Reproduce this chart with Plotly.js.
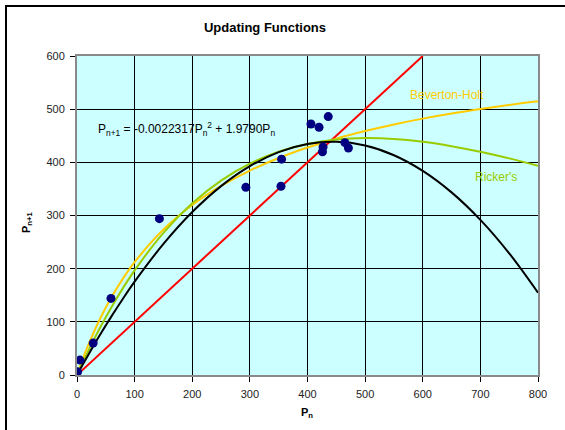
<!DOCTYPE html>
<html>
<head>
<meta charset="utf-8">
<script src="https://cdn.plot.ly/plotly-3.0.1.min.js"></script>
<style>
  html, body { margin: 0; padding: 0; background: #fff; }
  #frame { position: absolute; left: 5px; top: 5px; width: 620px; height: 500px;
           border-left: 2px solid #000; border-top: 2px solid #000; }
  #chart { position: absolute; left: 0; top: 0; width: 565px; height: 430px; }
</style>
</head>
<body>
<div id="frame"></div>
<div id="chart"></div>
<script>
// Observed data (P_n, P_n+1)
const obsPn   = [1, 5, 28, 59, 143, 293, 354, 355, 406, 420, 436, 426, 427, 465, 471];
const obsPn1  = [6, 28, 60, 144, 294, 353, 355, 406, 472, 466, 486, 420, 429, 437, 427];

// Curve sample positions (P_n)
const curveX = [0, 10, 20, 40, 60, 80, 100, 150, 200, 250, 300, 350, 400, 450, 500, 550, 600, 650, 700, 750, 800];
// Quadratic fit (black)
const quadY  = [0, 19.6, 38.7, 75.6, 110.7, 144.0, 175.6, 246.6, 306.5, 355.3, 392.8, 419.3, 434.5, 438.6, 431.6, 413.4, 384.0, 343.5, 291.8, 228.9, 154.9];
// Beverton-Holt (yellow)
const bhY    = [0, 30.2, 57.6, 105.8, 146.7, 181.8, 212.4, 273.6, 319.7, 355.6, 384.5, 408.1, 427.8, 444.5, 458.8, 471.3, 482.2, 491.8, 500.3, 508.0, 514.9];
// Ricker's (green)
const rickY  = [0, 23.5, 46.1, 88.7, 127.9, 163.9, 196.9, 267.5, 323.0, 365.7, 397.4, 419.9, 434.6, 442.8, 445.6, 443.9, 438.7, 430.4, 419.8, 407.4, 393.6];
// Identity line P_n+1 = P_n (red)
const idX = [0, 600];
const idY = [0, 600];

const xTicks = [0, 100, 200, 300, 400, 500, 600, 700, 800];
const yTicks = [0, 100, 200, 300, 400, 500, 600];

const traces = [
  { x: idX, y: idY, mode: 'lines', line: { color: '#FF0000', width: 2 }, hoverinfo: 'skip' },
  { x: curveX, y: bhY, mode: 'lines', line: { color: '#FFCC00', width: 2, shape: 'spline' } },
  { x: curveX, y: rickY, mode: 'lines', line: { color: '#99CC00', width: 2, shape: 'spline' } },
  { x: curveX, y: quadY, mode: 'lines', line: { color: '#000000', width: 2, shape: 'spline' } },
  { x: obsPn, y: obsPn1, mode: 'markers', marker: { color: '#000080', size: 9, symbol: 'circle' } }
];

const axisCommon = {
  showgrid: true, gridcolor: '#000000', gridwidth: 1,
  zeroline: false,
  showline: true, linecolor: '#8a8a8a', linewidth: 2, mirror: true,
  ticks: 'outside', ticklen: 5, tickcolor: '#000000', tickwidth: 1,
  ticklabelstandoff: 3,
  tickfont: { family: 'Liberation Sans, Arial, sans-serif', size: 11, color: '#222' },
  fixedrange: true
};

const layout = {
  width: 565, height: 430,
  margin: { l: 77, r: 27, t: 56, b: 55, pad: 0 },
  paper_bgcolor: 'rgba(0,0,0,0)',
  plot_bgcolor: '#CCFFFF',
  showlegend: false,
  title: {
    text: '<b>Updating Functions</b>',
    x: 265 / 565, xref: 'container', xanchor: 'center',
    y: 1 - 27 / 430, yref: 'container', yanchor: 'middle',
    font: { family: 'Liberation Sans, Arial, sans-serif', size: 13, color: '#000' }
  },
  xaxis: Object.assign({}, axisCommon, { range: [0, 800], tickvals: xTicks, ticktext: xTicks.map(String) }),
  yaxis: Object.assign({}, axisCommon, { range: [0, 600], tickvals: yTicks, ticktext: yTicks.map(String) }),
  annotations: [
    { text: 'P<sub>n+1</sub> = -0.0022317P<sub>n</sub><sup>2</sup> + 1.9790P<sub>n</sub>',
      xref: 'x', yref: 'y', x: 33, y: 463, xanchor: 'left', yanchor: 'middle', showarrow: false,
      font: { family: 'Liberation Sans, Arial, sans-serif', size: 12, color: '#000' } },
    { text: 'Beverton-Holt', xref: 'x', yref: 'y', x: 642, y: 527, xanchor: 'center', yanchor: 'middle',
      showarrow: false, font: { family: 'Liberation Sans, Arial, sans-serif', size: 12, color: '#FFCC00' } },
    { text: "Ricker's", xref: 'x', yref: 'y', x: 727, y: 372, xanchor: 'center', yanchor: 'middle',
      showarrow: false, font: { family: 'Liberation Sans, Arial, sans-serif', size: 12, color: '#99CC00' } },
    { text: '<b>P<sub>n+1</sub></b>', xref: 'paper', yref: 'paper', x: (27 - 77) / 461, y: (375 - 222) / 319,
      xanchor: 'center', yanchor: 'middle', textangle: -90, showarrow: false,
      font: { family: 'Liberation Sans, Arial, sans-serif', size: 11, color: '#000' } },
    { text: '<b>P<sub>n</sub></b>', xref: 'paper', yref: 'paper', x: (307 - 77) / 461, y: (375 - 413) / 319,
      xanchor: 'center', yanchor: 'middle', showarrow: false,
      font: { family: 'Liberation Sans, Arial, sans-serif', size: 11, color: '#000' } }
  ]
};

Plotly.newPlot('chart', traces, layout, { staticPlot: true, displayModeBar: false });
</script>
</body>
</html>
